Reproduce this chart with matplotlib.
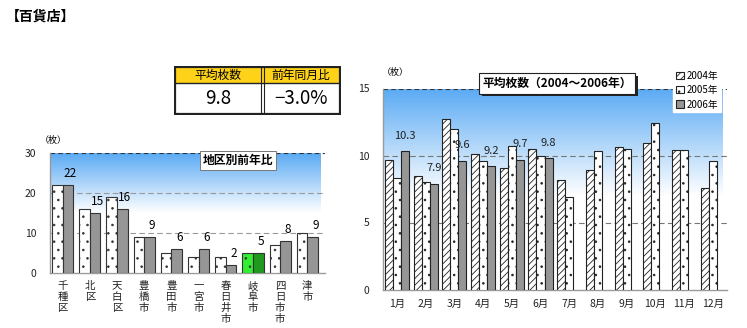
import numpy as np
import matplotlib
matplotlib.use("Agg")
import matplotlib.pyplot as plt
from matplotlib.patches import Rectangle, Patch
from matplotlib.colors import LinearSegmentedColormap

plt.rcParams['font.family'] = ['Noto Sans CJK JP', 'DejaVu Sans']
plt.rcParams['hatch.linewidth'] = 0.6

# ---- data ----
districts = ['千種区', '北区', '天白区', '豊橋市', '豊田市', '一宮市', '春日井市', '岐阜市', '四日市市', '津市']
prev_year = [22, 16, 19, 9, 5, 4, 4, 5, 7, 10]
this_year = [22, 15, 16, 9, 6, 6, 2, 5, 8, 9]
highlight = '岐阜市'

months = ['1月', '2月', '3月', '4月', '5月', '6月', '7月', '8月', '9月', '10月', '11月', '12月']
y2004 = [9.7, 8.5, 12.7, 10.1, 9.1, 10.5, 8.2, 8.9, 10.6, 10.9, 10.4, 7.6]
y2005 = [8.3, 8.0, 12.0, 9.6, 10.7, 10.0, 6.9, 10.3, 10.5, 12.4, 10.4, 9.6]
y2006 = [10.3, 7.9, 9.6, 9.2, 9.7, 9.8]
years = ['2004年', '2005年', '2006年']

summary_headers = ['平均枚数', '前年同月比']
summary_values = ['9.8', '−3.0%']

W, H = 747, 328
fig = plt.figure(figsize=(W / 100, H / 100), dpi=100)
fig.patch.set_facecolor('white')


def px_axes(x0, y0, x1, y1):
    return fig.add_axes([x0 / W, 1 - y1 / H, (x1 - x0) / W, (y1 - y0) / H])


def sky_background(ax, y_lo, y_hi, x_lo, x_hi):
    grad = np.linspace(0, 1, 256).reshape(-1, 1)
    ax.imshow(grad, extent=[x_lo, x_hi, y_lo, y_hi], origin='lower',
              cmap=LinearSegmentedColormap.from_list('g', ['#ffffff', '#5aaaf4']),
              aspect='auto', zorder=0, interpolation='bicubic')


def style_axes(ax):
    for s in ['top', 'right']:
        ax.spines[s].set_visible(False)
    for s in ['left', 'bottom']:
        ax.spines[s].set_color('#9a9a9a')
        ax.spines[s].set_linewidth(1.0)
    ax.tick_params(axis='both', length=0, labelsize=7.5, colors='#222222')


# ---- page title ----
fig.text(6 / W, 1 - 17 / H, '【百貨店】', fontsize=10, fontweight='bold', va='center', ha='left')

# ---- summary table ----
tab = px_axes(174, 66, 341, 115)
tab.set_xlim(174, 341)
tab.set_ylim(115, 66)
tab.axis('off')
tab.add_patch(Rectangle((175, 67), 165, 16, facecolor='#ffd21a', edgecolor='none'))
tab.add_patch(Rectangle((175, 67), 165, 47, facecolor='none', edgecolor='#222222', lw=1.6))
tab.plot([175, 340], [83, 83], color='#222222', lw=1.0)
tab.plot([261, 261], [67, 114], color='#222222', lw=0.8)
tab.plot([263.5, 263.5], [67, 114], color='#222222', lw=0.8)
tab.text(218, 75.5, summary_headers[0], ha='center', va='center', fontsize=8.5)
tab.text(301, 75.5, summary_headers[1], ha='center', va='center', fontsize=8.5)
tab.text(218, 99, summary_values[0], ha='center', va='center', fontsize=13.5)
tab.text(301, 99, summary_values[1], ha='center', va='center', fontsize=13.5)

# ---- left chart: district comparison ----
axL = px_axes(50, 153, 325, 273)
n = len(districts)
xl = np.arange(n)
xlim_l = (-0.46, 9.65)
axL.set_xlim(*xlim_l)
axL.set_ylim(0, 30)
sky_background(axL, 15, 30, xlim_l[0], 9.5)
bw = 0.39
for i, d in enumerate(districts):
    hl = d == highlight
    axL.bar(xl[i] - bw / 2, prev_year[i], width=bw, facecolor='#33ee33' if hl else 'white',
            edgecolor='#333333', hatch='..', lw=0.8, zorder=3)
    axL.bar(xl[i] + bw / 2, this_year[i], width=bw, facecolor='#1f9a1f' if hl else '#969696',
            edgecolor='#333333', lw=0.8, zorder=3)
    axL.text(xl[i] + bw * 0.75, this_year[i] + 2.9, str(this_year[i]),
             ha='center', va='center', fontsize=8.5, zorder=4)
for g in [10, 20]:
    axL.axhline(g, color='#999999', ls=(0, (5, 3)), lw=0.8, zorder=1)
axL.axhline(30, color='#333333', ls=(0, (4, 3)), lw=0.8, zorder=1)
axL.set_yticks([0, 10, 20, 30])
axL.set_xticks(xl)
axL.set_xticklabels(['\n'.join(d) for d in districts], fontsize=7.5, linespacing=1.1, va='top')
style_axes(axL)
axL.tick_params(axis='x', pad=6)
axL.tick_params(axis='y', pad=10)
fig.text(40 / W, 1 - 140 / H, '（枚）', fontsize=6.5, ha='left', va='center')
fig.text(238 / W, 1 - 160.5 / H, '地区別前年比', fontsize=8.5, fontweight='bold', ha='center', va='center',
         bbox=dict(boxstyle='square,pad=0.25', facecolor='white', edgecolor='#777777', lw=0.7))

# ---- right chart: monthly averages ----
axR = px_axes(383, 88.5, 727, 289.5)
m = len(months)
xm = np.arange(m)
xlim_r = (-0.49, 11.5)
axR.set_xlim(*xlim_r)
axR.set_ylim(0, 15)
sky_background(axR, 7, 15, xlim_r[0], 11.35)
w = 0.28
axR.bar(xm - w, y2004, width=w, facecolor='white', edgecolor='#222222', hatch='/////', lw=0.8, zorder=3)
axR.bar(xm, y2005, width=w, facecolor='white', edgecolor='#222222', hatch='..', lw=0.8, zorder=3)
x6 = xm[:len(y2006)] + w
axR.bar(x6, y2006, width=w, facecolor='#969696', edgecolor='#222222', lw=0.8, zorder=3)
for x, v in zip(x6, y2006):
    axR.text(x, v + 1.15, f'{v:.1f}', ha='center', va='center', fontsize=8, color='#222222', zorder=4)
axR.axhline(5, color='#777777', ls=(0, (5, 3)), lw=0.8, zorder=1)
axR.axhline(10, color='#777777', ls=(0, (5, 3)), lw=0.8, zorder=1)
axR.axhline(15, color='#333333', ls=(0, (4, 3)), lw=0.8, zorder=1)
axR.set_yticks([0, 5, 10, 15])
axR.set_xticks(xm)
axR.set_xticklabels(months, fontsize=7.5)
style_axes(axR)
axR.tick_params(axis='x', pad=7)
axR.tick_params(axis='y', pad=10)
fig.text(382 / W, 1 - 72 / H, '（枚）', fontsize=6.5, ha='left', va='center')
fig.text(557 / W, 1 - 83.5 / H, '平均枚数（2004～2006年）', fontsize=8.5, fontweight='bold', ha='center', va='center',
         bbox=dict(boxstyle='square,pad=0.3', facecolor='white', edgecolor='#222222', lw=0.8))
# drop shadow of the title box
fig.add_artist(Rectangle((482 / W, 1 - 95.5 / H), 156 / W, 2 / H, facecolor='#222222', edgecolor='none'))
fig.add_artist(Rectangle((636 / W, 1 - 95.5 / H), 2 / W, 19 / H, facecolor='#222222', edgecolor='none'))

handles = [Patch(facecolor='white', edgecolor='#222222', hatch='/////', lw=0.8),
           Patch(facecolor='white', edgecolor='#222222', hatch='..', lw=0.8),
           Patch(facecolor='#969696', edgecolor='#222222', lw=0.8)]
leg = fig.legend(handles, years, loc='upper left', bbox_to_anchor=(668 / W, 1 - 63 / H),
                 fontsize=7, frameon=True, handlelength=0.8, handleheight=0.8, handletextpad=0.3,
                 labelspacing=0.45, borderpad=0.3, fancybox=False)
leg.get_frame().set_edgecolor('white')
leg.get_frame().set_facecolor('white')
leg.get_frame().set_alpha(1)

fig.savefig('out.png', dpi=100, facecolor='white')
